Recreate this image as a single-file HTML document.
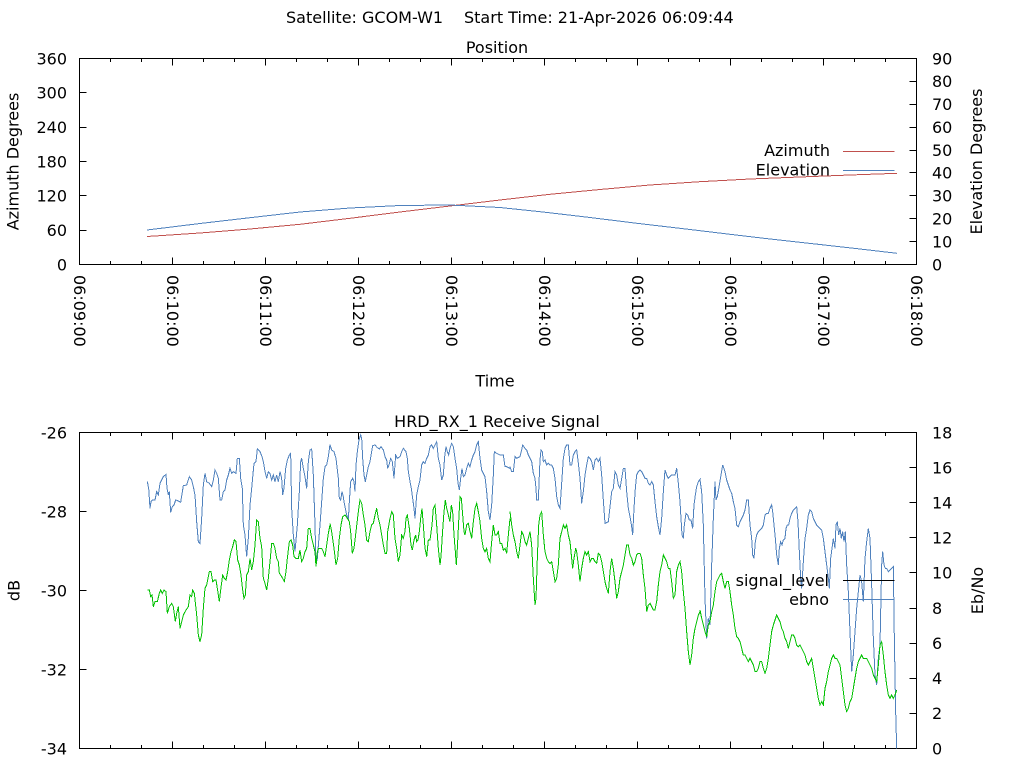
<!DOCTYPE html>
<html><head><meta charset="utf-8"><style>
html,body{margin:0;padding:0;background:#fff;}
svg{display:block;}
text{font-family:"DejaVu Sans","Liberation Sans",sans-serif;font-size:16px;fill:#000;}
</style></head><body>
<svg width="1024" height="768" viewBox="0 0 1024 768" xmlns="http://www.w3.org/2000/svg">
<rect width="1024" height="768" fill="#fff"/>

<!-- Header -->
<text x="286" y="23">Satellite: GCOM-W1</text>
<text x="464" y="23">Start Time: 21-Apr-2026 06:09:44</text>

<!-- ===== TOP PLOT ===== -->
<text x="497" y="53" text-anchor="middle">Position</text>
<g fill="none" stroke="#000" stroke-width="1" shape-rendering="crispEdges">
<rect x="79.5" y="58.5" width="837" height="206"/>
<path d="M172.5 264.5v-7M265.5 264.5v-7M358.5 264.5v-7M451.5 264.5v-7M544.5 264.5v-7M637.5 264.5v-7M730.5 264.5v-7M823.5 264.5v-7
M110.5 264.5v-3.5M141.5 264.5v-3.5M203.5 264.5v-3.5M234.5 264.5v-3.5M296.5 264.5v-3.5M327.5 264.5v-3.5M389.5 264.5v-3.5M420.5 264.5v-3.5M482.5 264.5v-3.5M513.5 264.5v-3.5M575.5 264.5v-3.5M606.5 264.5v-3.5M668.5 264.5v-3.5M699.5 264.5v-3.5M761.5 264.5v-3.5M792.5 264.5v-3.5M854.5 264.5v-3.5M885.5 264.5v-3.5
M172.5 58.5v7M265.5 58.5v7M358.5 58.5v7M451.5 58.5v7M544.5 58.5v7M637.5 58.5v7M730.5 58.5v7M823.5 58.5v7
M110.5 58.5v3.5M141.5 58.5v3.5M203.5 58.5v3.5M234.5 58.5v3.5M296.5 58.5v3.5M327.5 58.5v3.5M389.5 58.5v3.5M420.5 58.5v3.5M482.5 58.5v3.5M513.5 58.5v3.5M575.5 58.5v3.5M606.5 58.5v3.5M668.5 58.5v3.5M699.5 58.5v3.5M761.5 58.5v3.5M792.5 58.5v3.5M854.5 58.5v3.5M885.5 58.5v3.5
M79.5 230.5h7M79.5 195.5h7M79.5 161.5h7M79.5 127.5h7M79.5 92.5h7
M916.5 241.5h-7M916.5 218.5h-7M916.5 195.5h-7M916.5 172.5h-7M916.5 150.5h-7M916.5 127.5h-7M916.5 104.5h-7M916.5 81.5h-7"/>
</g>
<!-- left ticks labels -->
<g text-anchor="end">
<text x="67" y="270.3">0</text>
<text x="67" y="236">60</text>
<text x="67" y="201.6">120</text>
<text x="67" y="167.3">180</text>
<text x="67" y="133">240</text>
<text x="67" y="98.6">300</text>
<text x="67" y="64.3">360</text>
</g>
<g>
<text x="932" y="270.3">0</text>
<text x="932" y="247.4">10</text>
<text x="932" y="224.5">20</text>
<text x="932" y="201.6">30</text>
<text x="932" y="178.7">40</text>
<text x="932" y="155.9">50</text>
<text x="932" y="133">60</text>
<text x="932" y="110.1">70</text>
<text x="932" y="87.2">80</text>
<text x="932" y="64.3">90</text>
</g>
<text transform="translate(18.5,161.5) rotate(-90)" text-anchor="middle">Azimuth Degrees</text>
<text transform="translate(982,161.5) rotate(-90)" text-anchor="middle">Elevation Degrees</text>
<!-- x tick labels rotated -->
<g>
<text transform="translate(79.5,275) rotate(90)" y="5.5">06:09:00</text>
<text transform="translate(172.5,275) rotate(90)" y="5.5">06:10:00</text>
<text transform="translate(265.5,275) rotate(90)" y="5.5">06:11:00</text>
<text transform="translate(358.5,275) rotate(90)" y="5.5">06:12:00</text>
<text transform="translate(451.5,275) rotate(90)" y="5.5">06:13:00</text>
<text transform="translate(544.5,275) rotate(90)" y="5.5">06:14:00</text>
<text transform="translate(637.5,275) rotate(90)" y="5.5">06:15:00</text>
<text transform="translate(730.5,275) rotate(90)" y="5.5">06:16:00</text>
<text transform="translate(823.5,275) rotate(90)" y="5.5">06:17:00</text>
<text transform="translate(916.5,275) rotate(90)" y="5.5">06:18:00</text>
</g>
<text x="495" y="386.5" text-anchor="middle">Time</text>

<!-- top curves -->
<polyline fill="none" stroke="#c0504d" stroke-width="1" shape-rendering="crispEdges"
points="147,236.5 200,233 250,229 300,224.3 350,218.3 400,212 450,206 500,200 550,194.3 600,189.5 650,185 700,181.7 750,179 800,177 850,175 897,173.3"/>
<polyline fill="none" stroke="#4f81bd" stroke-width="1" shape-rendering="crispEdges"
points="147,230 200,223.5 250,217.7 300,212 350,208 400,205.5 450,205 500,207.5 543,212 590,217.5 637,223.3 690,229.5 730,234.3 770,239 820,244.5 860,249 897,253.3"/>
<!-- top legend -->
<text x="830" y="156" text-anchor="end">Azimuth</text>
<text x="830" y="175.5" text-anchor="end">Elevation</text>
<g shape-rendering="crispEdges" stroke-width="1">
<path d="M843 151.5H894.5" stroke="#c0504d"/>
<path d="M843 170.5H894.5" stroke="#4f81bd"/>
</g>

<!-- ===== BOTTOM PLOT ===== -->
<text x="497" y="427" text-anchor="middle">HRD_RX_1 Receive Signal</text>
<g fill="none" stroke="#000" stroke-width="1" shape-rendering="crispEdges">
<rect x="79.5" y="432.5" width="837" height="316"/>
<path d="M172.5 748.5v-7M265.5 748.5v-7M358.5 748.5v-7M451.5 748.5v-7M544.5 748.5v-7M637.5 748.5v-7M730.5 748.5v-7M823.5 748.5v-7
M110.5 748.5v-3.5M141.5 748.5v-3.5M203.5 748.5v-3.5M234.5 748.5v-3.5M296.5 748.5v-3.5M327.5 748.5v-3.5M389.5 748.5v-3.5M420.5 748.5v-3.5M482.5 748.5v-3.5M513.5 748.5v-3.5M575.5 748.5v-3.5M606.5 748.5v-3.5M668.5 748.5v-3.5M699.5 748.5v-3.5M761.5 748.5v-3.5M792.5 748.5v-3.5M854.5 748.5v-3.5M885.5 748.5v-3.5
M172.5 432.5v7M265.5 432.5v7M358.5 432.5v7M451.5 432.5v7M544.5 432.5v7M637.5 432.5v7M730.5 432.5v7M823.5 432.5v7
M110.5 432.5v3.5M141.5 432.5v3.5M203.5 432.5v3.5M234.5 432.5v3.5M296.5 432.5v3.5M327.5 432.5v3.5M389.5 432.5v3.5M420.5 432.5v3.5M482.5 432.5v3.5M513.5 432.5v3.5M575.5 432.5v3.5M606.5 432.5v3.5M668.5 432.5v3.5M699.5 432.5v3.5M761.5 432.5v3.5M792.5 432.5v3.5M854.5 432.5v3.5M885.5 432.5v3.5
M79.5 511.5h7M79.5 590.5h7M79.5 669.5h7
M916.5 467.5h-7M916.5 502.5h-7M916.5 537.5h-7M916.5 572.5h-7M916.5 608.5h-7M916.5 643.5h-7M916.5 678.5h-7M916.5 713.5h-7"/>
</g>
<g text-anchor="end">
<text x="67" y="438.3">-26</text>
<text x="67" y="517.3">-28</text>
<text x="67" y="596.3">-30</text>
<text x="67" y="675.3">-32</text>
<text x="67" y="754.3">-34</text>
</g>
<g>
<text x="932" y="438.3">18</text>
<text x="932" y="473.4">16</text>
<text x="932" y="508.5">14</text>
<text x="932" y="543.6">12</text>
<text x="932" y="578.7">10</text>
<text x="932" y="613.9">8</text>
<text x="932" y="649">6</text>
<text x="932" y="684.1">4</text>
<text x="932" y="719.2">2</text>
<text x="932" y="754.3">0</text>
</g>
<text transform="translate(19.5,590.5) rotate(-90)" text-anchor="middle">dB</text>
<text transform="translate(983,590.5) rotate(-90)" text-anchor="middle">Eb/No</text>

<!-- bottom curves (traced) -->
<g fill="none" stroke-width="1" shape-rendering="crispEdges">
<g transform="translate(130,425) scale(0.333333)">
<polyline vector-effect="non-scaling-stroke" stroke="#4f81bd" points="52,170 56,190 60,250 63,230 68,225 75,225 80,200 85,210 90,175 95,165 100,155 108,148 111,190 115,210 118,200 122,262 127,245 132,240 137,225 145,228 152,232 160,182 170,180 178,155 185,165 190,185 195,210 200,290 205,350 210,355 215,280 220,180 225,145 230,170 238,175 245,185 250,165 255,135 260,145 265,160 270,225 275,225 280,200 285,195 290,165 295,150 300,130 305,145 310,140 318,145 322,100 328,100 332,160 337,190 340,300 345,330 350,395 355,340 360,240 365,190 372,115 378,110 382,72 390,80 396,95 400,110 405,140 410,160 415,140 420,145 425,165 430,150 435,170 440,150 445,170 450,140 455,160 458,210 462,190 467,130 472,105 478,90 482,85 485,250 490,330 495,380 502,300 508,200 512,110 515,100 520,130 525,155 530,190 535,110 540,75 545,72 550,150 555,300 558,420 562,400 566,350 570,300 575,230 580,160 585,125 590,120 595,95 600,58"/>
<polyline vector-effect="non-scaling-stroke" stroke="#00c000" points="52,495 58,495 62,515 66,510 70,545 75,530 82,530 88,505 92,495 97,505 102,495 108,500 112,565 118,545 125,535 130,545 136,590 140,565 145,545 150,610 155,590 160,570 168,555 175,545 180,510 185,515 188,495 193,505 200,570 205,630 210,650 215,630 220,550 225,490 230,480 238,440 243,440 248,470 253,465 258,465 262,490 268,530 272,495 278,450 283,460 288,465 293,440 298,405 303,380 308,365 313,345 318,350 323,405 328,420 333,450 338,495 342,520 346,510 350,450 355,440 360,400 365,435 370,410 375,360 380,285 385,290 390,340 395,365 400,460 405,475 410,495 415,460 420,410 425,355 430,355 435,370 440,400 445,410 448,445 452,450 458,460 463,470 468,440 472,400 478,350 483,345 488,360 492,395 497,400 505,400 510,375 515,410 520,400 525,380 530,370 535,310 540,310 545,340 550,360 555,380 558,425 562,380 566,370 575,370 580,380 585,395 590,360 595,325 600,300"/>
</g>
<g transform="translate(320,425) scale(0.333333)">
<polyline vector-effect="non-scaling-stroke" stroke="#4f81bd" points="30,60 35,75 42,80 48,100 55,160 58,220 62,225 66,200 70,215 72,230 76,250 80,270 85,285 88,230 92,170 98,160 102,170 105,200 108,120 112,80 117,45 122,30 125,40 128,100 132,150 136,170 140,150 145,125 150,110 155,80 158,62 165,60 172,68 178,72 183,65 190,75 195,95 200,105 203,130 207,120 212,100 217,110 222,160 227,90 232,100 240,95 245,80 250,70 258,80 262,100 265,140 270,170 274,190 278,220 282,250 285,280 290,210 295,185 300,165 305,120 310,110 315,115 320,100 325,90 330,65 335,60 340,70 345,60 350,50 355,100 360,120 365,165 370,150 374,95 378,65 382,80 386,90 390,70 395,55 400,65 405,100 410,130 414,175 418,195 422,160 426,130 430,155 435,150 440,130 445,115 450,125 455,105 460,90 465,80 470,60 475,50 480,100 485,135 490,145 495,155 500,200 505,260 510,285 515,240 520,150 523,80 530,85 540,90 550,90 555,125 560,125 570,130"/>
<polyline vector-effect="non-scaling-stroke" stroke="#00c000" points="30,295 35,320 42,370 48,420 53,400 58,340 63,300 68,275 75,270 82,280 88,290 92,320 97,385 102,370 108,320 115,260 120,225 125,235 130,270 135,300 140,345 145,350 150,320 155,300 160,295 165,270 170,250 175,280 180,300 185,330 190,360 195,385 200,385 203,320 210,280 215,260 220,270 225,340 230,370 235,410 240,390 245,330 250,340 255,320 258,280 262,270 268,310 273,360 277,375 282,345 287,330 290,350 294,345 298,320 302,280 306,250 310,300 315,370 320,395 325,345 330,345 336,300 340,250 345,240 350,300 355,370 360,420 363,395 367,330 372,260 376,225 380,250 385,270 390,290 394,240 398,260 402,330 406,380 409,420 412,370 416,290 420,215 424,220 428,270 432,320 435,330 440,300 445,295 450,320 455,340 460,290 465,250 470,235 475,260 480,290 485,340 490,370 495,380 500,370 505,400 510,410 515,350 520,300 525,330 530,330 535,320 540,355 545,355 550,375 555,370 560,385 565,330 570,280"/>
</g>
<g transform="translate(510,425) scale(0.333333)">
<polyline vector-effect="non-scaling-stroke" stroke="#4f81bd" points="0,125 5,140 10,140 15,95 20,100 30,95 35,75 38,60 45,70 50,75 55,90 60,100 65,110 70,145 75,160 78,190 80,225 85,225 88,150 90,105 93,75 97,80 100,110 105,105 110,120 115,115 120,120 125,120 130,130 135,160 140,215 145,240 150,250 155,175 160,100 165,70 170,60 175,60 180,120 185,120 190,90 195,80 200,75 205,115 210,160 215,235 220,200 225,150 230,120 235,95 240,100 245,110 250,135 255,105 260,100 265,110 270,100 275,150 280,225 285,295 295,290 300,245 305,200 310,190 315,140 320,150 325,180 330,190 335,160 340,130 345,130 350,200 355,250 360,275 365,305 368,330 372,250 376,190 380,150 385,140 390,135 395,140 400,150 405,160 410,160 415,175 420,180 425,170 430,180 435,230 440,275 445,305 450,330 455,280 460,200 465,135 470,150 475,160 485,150 495,150 500,130 505,175 510,230 513,280 516,330 520,340 523,300 528,265 533,270 538,285 543,285 548,310 552,240 556,210 560,185 565,170 572,160"/>
<polyline vector-effect="non-scaling-stroke" stroke="#00c000" points="0,260 5,300 10,330 15,350 20,380 25,400 30,360 35,320 40,330 45,350 50,360 55,340 60,320 65,360 70,460 75,540 78,520 82,400 86,300 90,270 95,260 100,330 105,380 110,400 115,410 120,415 125,410 130,440 135,470 140,460 145,420 150,340 155,320 160,300 165,310 170,300 175,330 180,350 185,400 188,430 192,400 197,370 200,380 205,420 210,470 215,430 220,400 225,380 230,390 235,380 240,410 245,400 250,400 255,410 260,415 265,385 270,390 275,410 280,440 285,470 290,490 295,505 300,440 305,400 310,430 315,470 320,520 325,500 330,460 335,440 340,420 345,390 350,360 355,360 360,390 365,400 370,420 375,410 380,390 385,385 390,385 395,400 400,450 405,490 410,560 415,540 420,535 425,545 430,555 435,555 440,530 445,480 450,440 455,420 460,390 465,400 470,410 475,430 480,430 485,470 490,520 495,510 500,440 505,420 510,410 515,440 520,500 525,550 530,620 535,680 540,720 545,690 550,640 555,610 560,590 565,570 570,560"/>
</g>
<g transform="translate(700,425) scale(0.333333)">
<polyline vector-effect="non-scaling-stroke" stroke="#4f81bd" points="0,165 5,200 10,300 15,520 20,640 25,580 30,600 35,420 40,280 45,170 48,225 52,215 58,180 63,150 68,120 75,140 80,165 85,180 90,195 95,205 100,230 105,250 110,300 115,305 120,290 125,280 130,270 135,255 140,225 145,225 150,300 155,340 158,390 162,400 166,350 170,330 175,320 180,315 185,310 190,300 195,270 200,265 205,265 210,250 215,240 218,260 222,300 226,340 230,390 235,420 238,370 242,350 246,360 250,345 255,340 258,310 262,300 266,300 270,280 275,265 280,255 285,250 290,245 294,290 298,380 302,460 305,490 310,410 315,340 320,310 325,270 330,255 335,260 340,280 345,290 350,300 355,305 360,310 365,315 370,340 375,380 380,420 385,460 388,490 392,400 396,370 400,340 405,370 408,300 412,290 416,330 420,310 424,340 428,320 432,350 436,320 440,420 445,500 450,620 455,740 460,690 465,620 470,550 475,500 480,450 485,470 490,530 495,400 500,350 505,310 510,340 515,480 520,640 525,750 530,780 535,700 540,660 545,420 548,380 552,420 556,430 560,430 565,440 570,435 575,430 580,425 583,640 587,860 590,970"/>
<polyline vector-effect="non-scaling-stroke" stroke="#00c000" points="0,555 5,580 10,600 15,620 20,635 25,600 30,590 35,560 40,540 45,500 50,470 55,460 60,450 65,445 70,470 75,490 80,470 85,470 90,500 95,540 100,570 105,610 110,635 115,640 120,650 125,670 130,690 135,690 140,700 145,710 150,700 155,710 160,720 165,740 170,740 175,730 180,710 185,710 190,730 195,745 200,730 205,700 210,660 215,620 220,600 225,585 230,570 235,580 240,590 245,610 250,620 255,640 260,650 265,670 270,650 275,630 280,630 285,640 290,660 295,665 300,660 305,670 310,680 315,690 320,710 325,720 330,710 335,700 340,730 345,760 350,790 355,820 360,840 365,830 370,840 375,790 380,770 385,740 390,720 395,700 400,690 405,700 410,700 415,710 420,720 425,760 430,800 435,840 440,860 445,850 450,830 455,820 460,790 465,760 470,730 475,710 480,700 485,690 490,700 495,700 500,700 505,710 510,720 515,730 520,750 525,760 530,770 535,720 540,660 545,650 550,690 555,740 560,780 565,810 570,820 575,810 580,820 585,810 590,795"/>
</g>
</g>

<!-- bottom legend -->
<text x="829" y="586" text-anchor="end">signal_level</text>
<text x="829" y="605" text-anchor="end">ebno</text>
<g shape-rendering="crispEdges" stroke-width="1">
<path d="M843 580.5H894.5" stroke="#000"/>
<path d="M843 599.5H894.5" stroke="#4f81bd"/>
</g>
</svg>
</body></html>
